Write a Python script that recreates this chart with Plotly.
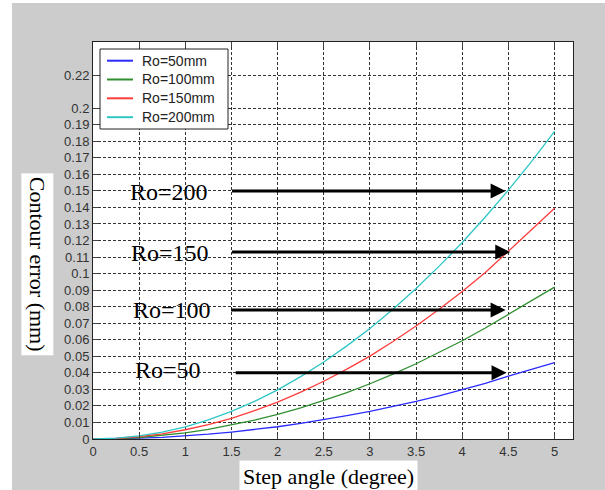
import plotly.graph_objects as go

# Step angle (degree)
step_angle = [0, 0.25, 0.5, 0.75, 1, 1.25, 1.5, 1.75, 2, 2.25, 2.5, 2.75,
              3, 3.25, 3.5, 3.75, 4, 4.25, 4.5, 4.75, 5]

# Contour error (mm) for each tool radius
err_ro50 = [0, 0.0001, 0.0005, 0.0010, 0.0019, 0.0029, 0.0042, 0.0057, 0.0074,
            0.0094, 0.0116, 0.0141, 0.0167, 0.0196, 0.0227, 0.0261, 0.0297,
            0.0336, 0.0380, 0.0420, 0.0462]
err_ro100 = [0, 0.0002, 0.0009, 0.0021, 0.0037, 0.0058, 0.0084, 0.0114, 0.0149,
             0.0188, 0.0233, 0.0281, 0.0334, 0.0392, 0.0455, 0.0522, 0.0594,
             0.0671, 0.0755, 0.0838, 0.0918]
err_ro150 = [0, 0.0003, 0.0014, 0.0031, 0.0056, 0.0087, 0.0125, 0.0171, 0.0223,
             0.0283, 0.0349, 0.0422, 0.0501, 0.0589, 0.0683, 0.0784, 0.0891,
             0.1007, 0.1135, 0.1262, 0.1395]
err_ro200 = [0, 0.0005, 0.0019, 0.0042, 0.0074, 0.0116, 0.0167, 0.0228, 0.0297,
             0.0377, 0.0465, 0.0563, 0.0668, 0.0785, 0.0910, 0.1045, 0.1188,
             0.1342, 0.1505, 0.1677, 0.1860]

series_names = ["Ro=50mm", "Ro=100mm", "Ro=150mm", "Ro=200mm"]
series_values = [err_ro50, err_ro100, err_ro150, err_ro200]
series_colors = ["#2b2bff", "#2f8f2f", "#ff3c3c", "#2fc6c6"]

# Callout labels with arrows
callout_text = ["Ro=200", "Ro=150", "Ro=100", "Ro=50"]
callout_label_x = [0.82, 0.835, 0.855, 0.81]
callout_label_y = [0.1493, 0.1123, 0.0778, 0.0418]
callout_y = [0.15, 0.113, 0.078, 0.04]
arrow_start_x = [1.49, 1.49, 1.48, 1.53]
arrow_tip_x = [4.47, 4.52, 4.47, 4.48]

y_tickvals = [round(i * 0.01, 2) for i in range(21)] + [0.22]
y_ticktext = ["0" if v == 0 else ("%g" % v) for v in y_tickvals]
x_tickvals = [0, 0.5, 1, 1.5, 2, 2.5, 3, 3.5, 4, 4.5, 5]
x_ticktext = ["%g" % v for v in x_tickvals]

# Page geometry in pixels (plot area inside the gray frame)
W, H = 605, 490
ML, MR, MT, MB = 93, 32, 42, 51
PW, PH = W - ML - MR, H - MT - MB


def px_x(p):
    return (p - ML) / PW


def px_y(p):
    return (H - MB - p) / PH


fig = go.Figure()
for name, vals, col in zip(series_names, series_values, series_colors):
    fig.add_trace(go.Scatter(x=step_angle, y=vals, mode="lines", name=name,
                             line=dict(color=col, width=1.3),
                             showlegend=False))

serif = "Liberation Serif, Times New Roman, serif"
sans = "Liberation Sans, Arial, sans-serif"

annotations = []
shapes = [
    # white page edges around the gray frame
    dict(type="rect", xref="paper", yref="paper", x0=px_x(-10), x1=px_x(12),
         y0=px_y(H + 10), y1=px_y(-10), fillcolor="white", line_width=0,
         layer="below"),
    dict(type="rect", xref="paper", yref="paper", x0=px_x(-10), x1=px_x(W + 10),
         y0=px_y(3), y1=px_y(-10), fillcolor="white", line_width=0,
         layer="below"),
]

for txt, lx, lyy, ly, sx, tx in zip(callout_text, callout_label_x,
                                    callout_label_y, callout_y,
                                    arrow_start_x, arrow_tip_x):
    annotations.append(dict(x=lx, y=lyy, xref="x", yref="y", text=txt,
                            showarrow=False, font=dict(family=serif, size=24,
                                                       color="black")))
    annotations.append(dict(x=tx, y=ly, xref="x", yref="y", ax=sx, ay=ly,
                            axref="x", ayref="y", text="", showarrow=True,
                            arrowhead=2, arrowsize=1, arrowwidth=3,
                            arrowcolor="black"))

# Legend box with line samples
leg_left, leg_right, leg_top, leg_bottom = 100, 228, 49, 129
row_y = [60.7, 79.5, 98.3, 117.2]
shapes.append(dict(type="rect", xref="paper", yref="paper",
                   x0=px_x(leg_left), x1=px_x(leg_right),
                   y0=px_y(leg_bottom), y1=px_y(leg_top),
                   fillcolor="white", line=dict(color="#222222", width=1)))
for name, col, ry in zip(series_names, series_colors, row_y):
    shapes.append(dict(type="line", xref="paper", yref="paper",
                       x0=px_x(107), x1=px_x(133), y0=px_y(ry), y1=px_y(ry),
                       line=dict(color=col, width=2)))
    annotations.append(dict(x=px_x(140), y=px_y(ry), xref="paper", yref="paper",
                            xanchor="left", yanchor="middle", text=name,
                            showarrow=False,
                            font=dict(family=sans, size=14, color="#222222")))

# Axis titles drawn as boxed labels
annotations.append(dict(x=-0.1156, y=0.44, xref="paper", yref="paper",
                        xanchor="center", yanchor="middle",
                        text="Contour error (mm)", textangle=90,
                        showarrow=False, bgcolor="white", borderpad=3,
                        font=dict(family=serif, size=22, color="black")))
annotations.append(dict(x=0.49, y=-0.094, xref="paper", yref="paper",
                        xanchor="center", yanchor="middle",
                        text="Step angle (degree)", showarrow=False,
                        bgcolor="white", borderpad=3,
                        font=dict(family=serif, size=22, color="black")))

axis_common = dict(showline=True, linecolor="#222222", linewidth=1,
                   mirror="ticks", ticks="inside", ticklen=5,
                   tickcolor="#444444", showgrid=True, gridcolor="#333333",
                   gridwidth=1, griddash="3px,2px", zeroline=False,
                   tickfont=dict(family=sans, size=13, color="#333333"))

fig.update_layout(
    width=W, height=H,
    margin=dict(l=ML, r=MR, t=MT, b=MB),
    paper_bgcolor="#cccccc", plot_bgcolor="white",
    xaxis=dict(range=[0, 5.2], tickmode="array", tickvals=x_tickvals,
               ticktext=x_ticktext, **axis_common),
    yaxis=dict(range=[0, 0.24], tickmode="array", tickvals=y_tickvals,
               ticktext=y_ticktext, **axis_common),
    annotations=annotations,
    shapes=shapes,
    showlegend=False,
)

fig.write_html("out.html")
